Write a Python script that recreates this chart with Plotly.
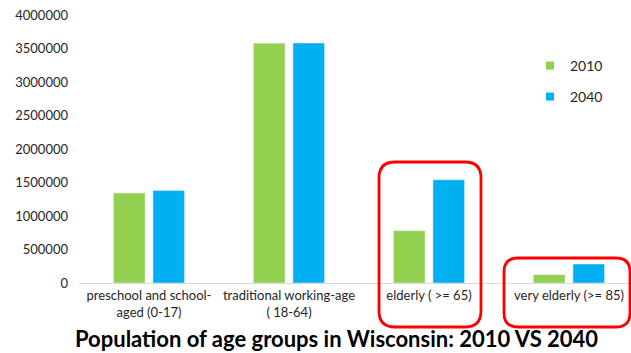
import plotly.graph_objects as go

categories = ["preschool and school-<br>aged (0-17)", "traditional working-age<br>( 18-64)",
              "elderly ( >= 65)", "very elderly (>= 85)"]
pop_2010 = [1343000, 3580000, 780000, 124000]
pop_2040 = [1382000, 3582000, 1540000, 283000]
tick_vals = [0, 500000, 1000000, 1500000, 2000000, 2500000, 3000000, 3500000, 4000000]
series_names = ["2010", "2040"]
series_colors = ["#92d050", "#00b0f0"]

W, H = 631, 353
L, R, T, B = 79, 0, 15, 70
PW, PH = W - L - R, H - T - B

def px(x):
    return (x - L) / PW

def py(y):
    return (H - B - y) / PH

def rounded_box(x0, y0, x1, y1, r):
    p = lambda x, y: f"{px(x):.5f},{py(y):.5f}"
    return (f"M {p(x0 + r, y0)} L {p(x1 - r, y0)} Q {p(x1, y0)} {p(x1, y0 + r)} "
            f"L {p(x1, y1 - r)} Q {p(x1, y1)} {p(x1 - r, y1)} "
            f"L {p(x0 + r, y1)} Q {p(x0, y1)} {p(x0, y1 - r)} "
            f"L {p(x0, y0 + r)} Q {p(x0, y0)} {p(x0 + r, y0)} Z")

FONT = "Lato"
fig = go.Figure()
for vals, name, color in zip([pop_2010, pop_2040], series_names, series_colors):
    fig.add_trace(go.Bar(x=list(range(4)), y=vals, name=name, marker_color=color,
                         showlegend=False))
# legend entries with small square keys
for name, color, leg in zip(series_names, series_colors, ["legend", "legend2"]):
    fig.add_trace(go.Scatter(x=[None], y=[None], mode="markers", name=name,
                             marker=dict(symbol="square", size=8, color=color),
                             legend=leg, showlegend=True))

leg_common = dict(xanchor="left", yanchor="middle",
                  font=dict(size=14, color="#262626", family=FONT),
                  bgcolor="rgba(0,0,0,0)", itemwidth=30, visible=True)

fig.update_layout(
    width=W, height=H,
    margin=dict(l=L, r=R, t=T, b=B),
    paper_bgcolor="white", plot_bgcolor="white",
    barmode="group", bargap=0.436, bargroupgap=0.2,
    showlegend=True,
    font=dict(family=FONT, size=13, color="#262626"),
    legend=dict(x=px(530), y=py(66), **leg_common),
    legend2=dict(x=px(530), y=py(97), **leg_common),
    xaxis=dict(tickmode="array", tickvals=list(range(4)), ticktext=categories,
               range=[-0.5, -0.5 + PW / 140.0], showgrid=False, zeroline=False,
               showline=True, linecolor="#d9d9d9", linewidth=1, ticks="",
               tickfont=dict(size=13, color="#262626")),
    yaxis=dict(range=[0, 4000000], tickvals=tick_vals, tickformat="d",
               showgrid=False, zeroline=False, showline=False, ticks="",
               ticklabelstandoff=10, tickfont=dict(size=13, color="#262626")),
    shapes=[
        dict(type="path", xref="paper", yref="paper",
             path=rounded_box(379, 162, 481, 327, 16),
             line=dict(color="#ff0000", width=2.8)),
        dict(type="path", xref="paper", yref="paper",
             path=rounded_box(504, 258, 630, 327, 14),
             line=dict(color="#ff0000", width=2.8)),
    ],
    annotations=[
        dict(text="<b>Population of age groups in Wisconsin: 2010 VS 2040</b>",
             xref="paper", yref="paper", x=px(336), y=py(338),
             xanchor="center", yanchor="middle", showarrow=False,
             font=dict(size=22, color="#000000", family=FONT)),
    ],
)

fig.write_html("out.html")
